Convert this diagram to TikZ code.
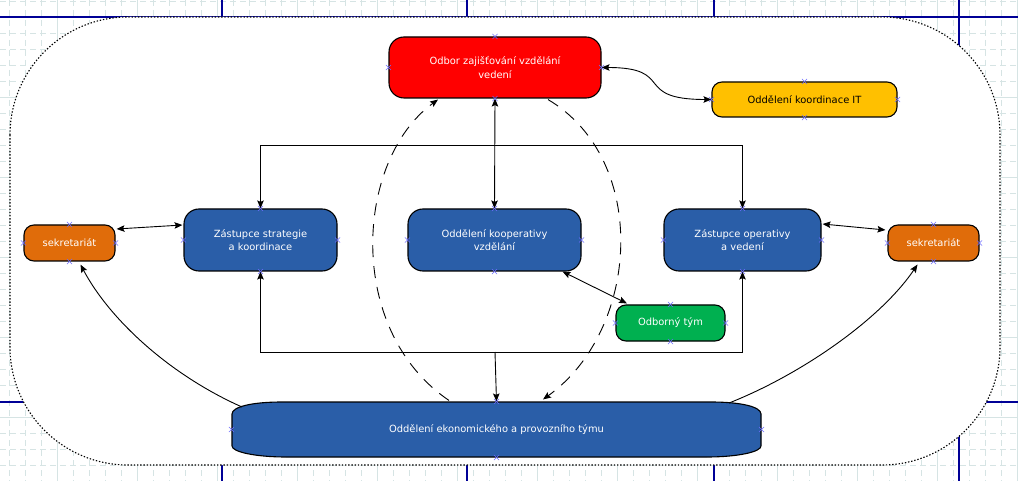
\documentclass[tikz,border=0pt]{standalone}
\usepackage{fontspec}
\setmainfont{DejaVu Sans}
\usetikzlibrary{arrows.meta,calc}
\definecolor{cred}{RGB}{255,0,0}
\definecolor{cyel}{RGB}{255,192,0}
\definecolor{corg}{RGB}{224,108,10}
\definecolor{cblue}{RGB}{42,94,168}
\definecolor{cgreen}{RGB}{0,176,80}
\definecolor{cgrid}{RGB}{214,228,228}
\definecolor{cpage}{RGB}{0,0,150}
\definecolor{cmk}{RGB}{110,110,255}
\tikzset{
  box/.style={draw=black, line width=1.1pt, rounded corners=#1, align=center, inner sep=0pt,
    text=white, font=\fontsize{9.9}{13.5}\selectfont},
  conn/.style={line width=0.9pt, black},
  arr/.style={conn, -{Stealth[length=8pt,width=6.5pt,inset=1.5pt]}},
  darr/.style={conn, {Stealth[length=8pt,width=6.5pt,inset=1.5pt]}-{Stealth[length=8pt,width=6.5pt,inset=1.5pt]}},
  dsh/.style={dash pattern=on 12pt off 9pt},
  cpmark/.style={draw=cmk, line width=0.6pt},
}
\newcommand\cpmarks[1]{%
  \foreach \a in {north,south,east,west}{%
    \draw[cpmark] ($(#1.\a)+(-2.5,-2.5)$) -- ++(5,5) ($(#1.\a)+(-2.5,2.5)$) -- ++(5,-5);}}
\begin{document}
\begin{tikzpicture}[x=1pt,y=-1pt]
\useasboundingbox (0,0) rectangle (1018,481);
% background grid
\begin{scope}
\clip (0,0) rectangle (1018,481);
\fill[white] (0,0) rectangle (1018,481);
\foreach \x in {9,25,...,1017} \draw[cgrid, line width=0.8pt, dash pattern=on 6pt off 4pt] (\x,0) -- (\x,481);
\foreach \y in {1,17,...,481} \draw[cgrid, line width=0.8pt, dash pattern=on 6pt off 4pt] (0,\y) -- (1018,\y);
\foreach \x in {57,137,...,1017} \draw[cgrid, line width=0.9pt] (\x,0) -- (\x,481);
\foreach \y in {17,97,...,481} \draw[cgrid, line width=0.9pt] (0,\y) -- (1018,\y);
\foreach \x in {222,467,714,959} \draw[cpage, line width=1.1pt] (\x,0) -- (\x,481);
\foreach \y in {17,402} \draw[cpage, line width=1.1pt] (0,\y) -- (1018,\y);
\end{scope}
% page area
\draw[fill=white, line width=1.1pt, dash pattern=on 1.4pt off 1.8pt, rounded corners=118pt] (10,17) rectangle (1000,465);

% nodes
\node[box=15pt, fill=cred, minimum width=212pt, minimum height=61pt] (red) at (495,67.5) {Odbor zajišťování vzdělání\\vedení};
\node[box=10pt, fill=cyel, text=black, minimum width=185pt, minimum height=35pt] (yel) at (804.5,99.5) {Oddělení koordinace IT};
\node[box=10pt, fill=corg, minimum width=91pt, minimum height=36pt] (sekL) at (69.5,243) {sekretariát};
\node[box=10pt, fill=corg, minimum width=91pt, minimum height=36pt] (sekR) at (933.5,243) {sekretariát};
\node[box=15pt, fill=cblue, minimum width=153pt, minimum height=62pt] (strat) at (260.5,240) {Zástupce strategie\\a koordinace};
\node[box=15pt, fill=cblue, minimum width=173pt, minimum height=62pt] (koop) at (494.5,240) {Oddělení kooperativy\\vzdělání};
\node[box=15pt, fill=cblue, minimum width=157pt, minimum height=62pt] (oper) at (742.5,240) {Zástupce operativy\\a vedení};
\node[box=10pt, fill=cgreen, minimum width=109pt, minimum height=36pt] (odb) at (670.5,323) {Odborný tým};
\draw[fill=cblue, line width=1.1pt] (282,402) -- (711,402) .. controls (742,402) and (761,407) .. (761,414) -- (761,446)
  .. controls (761,452) and (737,457) .. (707,457) -- (286,457) .. controls (256,457) and (232,452) .. (232,446)
  -- (232,414) .. controls (232,407) and (251,402) .. (282,402) -- cycle;
\node[box=0pt, draw=none, minimum width=529pt, minimum height=55pt] (ekon) at (496.5,429.5) {Oddělení ekonomického a provozního týmu};

% connectors
\draw[darr] (red.south) -- (koop.north);
\draw[darr] (red.east) .. controls +(75,0) and +(-80,0) .. (yel.west);
\coordinate (tb) at (495,145);
\coordinate (bb) at (495,352);
\draw[arr] (tb) -| (strat.north);
\draw[arr] (tb) -| (oper.north);
\draw[arr] (bb) -| (strat.south);
\draw[arr] (bb) -| (oper.south);
\draw[arr] (bb) -- (ekon.north);
\draw[darr] ($(sekL.east)+(1,-14)$) -- ($(strat.west)+(-1,-15)$);
\draw[darr] ($(oper.east)+(1,-16)$) -- ($(sekR.west)+(-2,-13)$);
\draw[darr] ($(koop.south)+(68,0)$) -- ($(odb.north)+(-43.5,-1)$);
\coordinate (eL) at (242,407);
\coordinate (eR) at (729,403);
\draw[arr] (eL) .. controls (170,375) and (110,320) .. ($(sekL.south)+(11,3)$);
\draw[arr] (eR) .. controls (800,375) and (880,320) .. ($(sekR.south)+(-16,3)$);
\draw[arr, dsh] ($(ekon.north)+(-47.5,-1)$) .. controls (345,330) and (355,160) .. ($(red.south)+(-57,1)$);
\draw[arr, dsh] ($(red.south)+(53,1)$) .. controls (650,160) and (640,330) .. ($(ekon.north)+(46.5,-2)$);

% connection points
\foreach \n in {red,yel,sekL,sekR,strat,koop,oper,odb,ekon} {\cpmarks{\n}}
\end{tikzpicture}
\end{document}
